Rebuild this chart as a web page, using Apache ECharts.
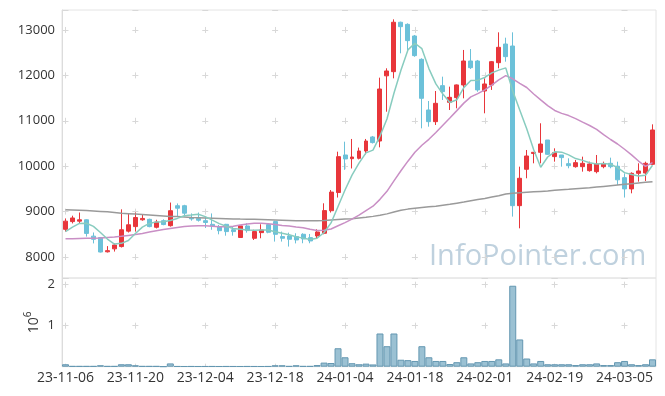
<!DOCTYPE html>
<html>
<head>
<meta charset="utf-8">
<script src="https://cdn.jsdelivr.net/npm/echarts@6/dist/echarts.min.js"></script>
<style>
html,body{margin:0;padding:0;background:#fff;}
#chart{width:665px;height:396px;}
</style>
</head>
<body>
<div id="chart"></div>
<script>
const dates = [
'23-11-06','23-11-07','23-11-08','23-11-09','23-11-10','23-11-13','23-11-14','23-11-15','23-11-16','23-11-17',
'23-11-20','23-11-21','23-11-22','23-11-23','23-11-24','23-11-27','23-11-28','23-11-29','23-11-30','23-12-01',
'23-12-04','23-12-05','23-12-06','23-12-07','23-12-08','23-12-11','23-12-12','23-12-13','23-12-14','23-12-15',
'23-12-18','23-12-19','23-12-20','23-12-21','23-12-22','23-12-26','23-12-27','23-12-28','24-01-02','24-01-03',
'24-01-04','24-01-05','24-01-08','24-01-09','24-01-10','24-01-11','24-01-12','24-01-15','24-01-16','24-01-17',
'24-01-18','24-01-19','24-01-22','24-01-23','24-01-24','24-01-25','24-01-26','24-01-29','24-01-30','24-01-31',
'24-02-01','24-02-02','24-02-05','24-02-06','24-02-07','24-02-08','24-02-13','24-02-14','24-02-15','24-02-16',
'24-02-19','24-02-20','24-02-21','24-02-22','24-02-23','24-02-26','24-02-27','24-02-28','24-02-29','24-03-04',
'24-03-05','24-03-06','24-03-07','24-03-08','24-03-11'];

const opens = [8610,8780,8790,8820,8460,8430,8115,8180,8230,8570,
8670,8820,8830,8655,8800,8690,9130,9130,8870,8850,
8800,8720,8670,8720,8600,8430,8684,8413,8537,8714,
8780,8450,8464,8450,8501,8427,8464,8523,9020,9420,
10247,10166,10174,10335,10644,10555,11990,12082,13170,13124,
12868,12354,11238,10981,11774,11407,11510,11789,12317,12317,
11656,11789,12280,12691,12647,9131,9932,10280,10306,10577,
10211,10247,10056,9990,9990,9902,9880,9990,10064,10000,
9748,9500,9843,9850,10042];
const closes = [8790,8860,8820,8520,8390,8110,8140,8265,8600,8710,
8870,8850,8670,8770,8715,9020,9075,8965,8840,8810,
8760,8685,8580,8560,8560,8685,8582,8560,8596,8545,
8500,8413,8391,8376,8398,8354,8552,9022,9430,10210,
10160,10203,10335,10555,10520,11700,12097,13170,13073,12765,
12435,11495,10981,11385,11642,11517,11790,12317,12170,11680,
11811,12302,12618,12413,9131,9734,10225,10306,10489,10262,
10299,10189,10012,10078,10064,10049,10049,10056,9990,9700,
9500,9843,9895,10064,10798];
const lows = [8560,8740,8740,8450,8300,8100,8100,8120,8210,8540,
8560,8800,8655,8630,8700,8670,8890,8890,8800,8780,
8640,8600,8500,8470,8470,8420,8537,8376,8413,8523,
8340,8340,8230,8300,8303,8303,8398,8501,8980,9310,
9920,9950,10150,10260,10500,10416,11200,11935,12486,12560,
12410,10834,10870,10908,11458,11238,11275,11495,12140,11640,
11165,11680,12156,12302,8890,8632,9734,10064,10064,10247,
10100,9990,9954,9968,9880,9880,9843,9954,9954,9587,
9310,9403,9660,9675,10027];
const highs = [8850,8910,8980,8830,8540,8440,8240,8300,9050,8960,
8980,8940,8845,8820,8830,9200,9180,9150,8960,8980,
8880,8960,8706,8730,8670,8706,8743,8600,8721,8743,
8800,8560,8537,8523,8523,8508,8611,9183,9475,10320,
10540,10600,10410,10600,10666,11950,12156,13234,13183,13146,
12890,12376,11436,11656,11972,11752,11800,12560,12580,12340,
11935,12317,12948,12830,12948,9990,10357,10310,10945,10577,
10394,10247,10174,10137,10210,10100,10247,10100,10188,10100,
9843,9865,10064,10100,10922];
const volumes = [60000,15000,15000,15000,15000,35000,15000,15000,60000,60000,
35000,15000,15000,15000,5000,80000,12000,10000,12000,10000,
11000,12000,10000,12000,11000,10000,12000,11000,10000,12000,
35000,35000,15000,35000,15000,15000,40000,100000,90000,450000,
230000,85000,60000,75000,55000,810000,500000,810000,170000,160000,
140000,500000,230000,140000,140000,65000,110000,230000,80000,110000,
140000,140000,180000,80000,1975000,665000,200000,80000,140000,60000,
60000,60000,60000,40000,60000,60000,80000,40000,40000,110000,
140000,60000,40000,60000,180000];
const ma5 = [8560,8660,8740,8745,8676,8540,8396,8285,8301,8365,
8517,8659,8740,8774,8775,8805,8850,8909,8923,8942,
8890,8812,8735,8679,8629,8614,8593,8589,8597,8594,
8557,8523,8489,8445,8416,8386,8414,8540,8751,9114,
9475,9805,10068,10293,10355,10663,11041,11608,12112,12561,
12708,12588,12150,11812,11588,11404,11463,11730,11887,11895,
11954,12056,12116,12165,11655,11240,10824,10362,9977,10203,
10316,10309,10250,10168,10128,10078,10050,10059,10042,9969,
9859,9818,9786,9800,10020];
const ma20 = [8400,8405,8410,8415,8415,8420,8430,8440,8455,8475,
8495,8520,8550,8580,8605,8630,8650,8670,8685,8690,
8688,8679,8667,8669,8678,8707,8729,8743,8743,8735,
8716,8695,8681,8661,8645,8612,8586,8588,8618,8688,
8758,8834,8922,9021,9119,9270,9446,9676,9900,10111,
10308,10462,10592,10742,10904,11062,11224,11389,11526,11600,
11682,11787,11901,11994,11925,11826,11733,11590,11460,11335,
11228,11163,11115,11049,10970,10897,10810,10697,10588,10489,
10373,10250,10114,9997,10080];
const ma120 = [9040,9035,9030,9025,9015,9005,8995,8980,8965,8955,
8945,8935,8925,8915,8905,8895,8890,8880,8870,8865,
8860,8855,8850,8845,8840,8835,8832,8830,8825,8820,
8815,8810,8805,8800,8800,8800,8800,8805,8815,8825,
8835,8845,8860,8875,8895,8920,8950,8990,9030,9055,
9075,9090,9105,9120,9140,9160,9185,9210,9240,9265,
9290,9320,9350,9390,9405,9415,9425,9435,9445,9455,
9470,9480,9490,9505,9515,9525,9540,9555,9570,9585,
9600,9615,9630,9645,9660];

const candleData = opens.map((o, i) => [o, closes[i], lows[i], highs[i]]);

const FONT = '"Open Sans", "Noto Sans", sans-serif';
const chart = echarts.init(document.getElementById('chart'), null, {renderer: 'canvas'});

chart.setOption({
  animation: false,
  backgroundColor: '#fff',
  grid: [
    {left: 62, right: 9, top: 10, height: 268, show: true, borderColor: '#e4e4e4', borderWidth: 1},
    {left: 62, right: 9, top: 278, height: 88.7, show: true, borderColor: '#e4e4e4', borderWidth: 1}
  ],
  xAxis: [
    {
      type: 'category', gridIndex: 0, data: dates, boundaryGap: true,
      axisLine: {show: false}, axisTick: {show: false}, axisLabel: {show: false},
      splitLine: {show: true, interval: 9, alignWithLabel: true,
        lineStyle: {color: '#d8d8d8', width: 1, type: [6, 39.41], dashOffset: 28.43}}
    },
    {
      type: 'category', gridIndex: 1, data: dates, boundaryGap: true,
      axisLine: {show: false}, axisTick: {show: false},
      axisLabel: {interval: 9, fontSize: 14, color: '#333', fontFamily: FONT, margin: 4},
      splitLine: {show: true, interval: 9, alignWithLabel: true,
        lineStyle: {color: '#d8d8d8', width: 1, type: [6, 34.99], dashOffset: 37.29}}
    }
  ],
  yAxis: [
    {
      type: 'value', gridIndex: 0, min: 7538, max: 13440, scale: true,
      axisLine: {show: true, lineStyle: {color: '#dcdcdc'}}, axisTick: {show: false},
      axisLabel: {fontSize: 13, color: '#333', fontFamily: FONT, margin: 7,
        formatter: v => (v % 1000 === 0 ? String(v) : '')},
      splitLine: {show: true, lineStyle: {color: '#d8d8d8', width: 1, type: [6, 63.88], dashOffset: 69.39}}
    },
    {
      type: 'value', gridIndex: 1, min: 0, max: 2164000, interval: 1000000,
      axisLine: {show: true, lineStyle: {color: '#dcdcdc'}}, axisTick: {show: false},
      axisLabel: {fontSize: 13, color: '#333', fontFamily: FONT, margin: 7,
        formatter: v => (v > 0 && v % 1000000 === 0 ? String(v / 1000000) : '')},
      splitLine: {show: true, lineStyle: {color: '#d8d8d8', width: 1, type: [6, 63.88], dashOffset: 69.39}},
      name: '10{s|6}', nameLocation: 'middle', nameRotate: 90, nameGap: 17, nameMoveOverlap: false,
      nameTextStyle: {fontSize: 14, color: '#333', fontFamily: FONT, lineHeight: 22,
        rich: {s: {fontSize: 10, lineHeight: 12, verticalAlign: 'top', color: '#333', fontFamily: FONT}}}
    }
  ],
  graphic: [{
    type: 'text', left: 429, top: 242, z: -10, silent: true,
    style: {text: 'InfoPointer.com', font: '29px "Open Sans", sans-serif', fill: '#bfd1de'}
  }],
  series: [
    {
      type: 'candlestick', xAxisIndex: 0, yAxisIndex: 0, data: candleData, barWidth: '64%',
      itemStyle: {color: '#e8363b', color0: '#6cc1d9', borderColor: '#e8363b', borderColor0: '#6cc1d9', borderWidth: 1}
    },
    {type: 'line', xAxisIndex: 0, yAxisIndex: 0, data: ma120, symbol: 'none',
      lineStyle: {color: '#9a9a9a', width: 1.5}},
    {type: 'line', xAxisIndex: 0, yAxisIndex: 0, data: ma20, symbol: 'none',
      lineStyle: {color: '#c98fc5', width: 1.5}},
    {type: 'line', xAxisIndex: 0, yAxisIndex: 0, data: ma5, symbol: 'none',
      lineStyle: {color: '#88ccbf', width: 1.5}},
    {
      type: 'bar', xAxisIndex: 1, yAxisIndex: 1, data: volumes, barCategoryGap: '0%',
      itemStyle: {color: '#9bc1d3', borderColor: '#6497b1', borderWidth: 1}
    }
  ]
});
</script>
</body>
</html>
